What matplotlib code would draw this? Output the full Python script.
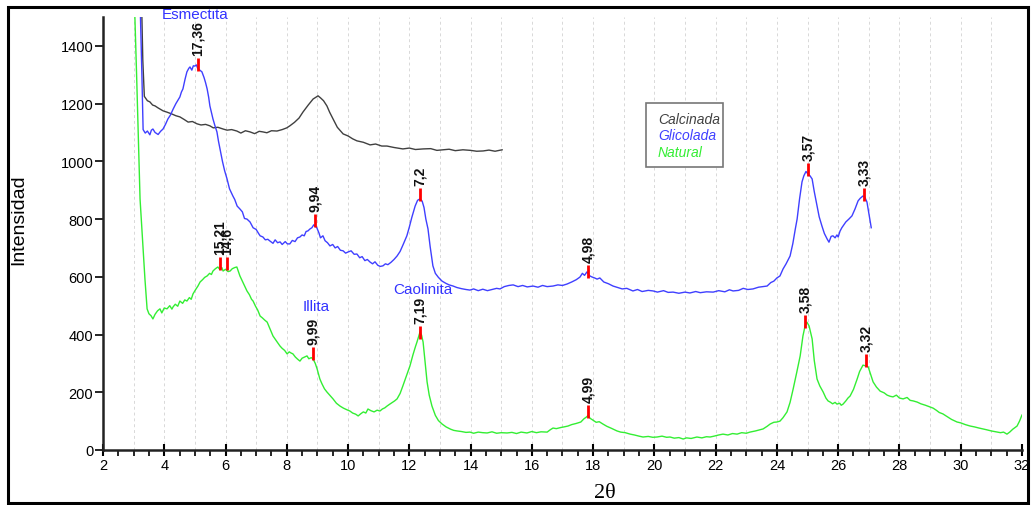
import numpy as np
import matplotlib
matplotlib.use("Agg")
import matplotlib.pyplot as plt
from matplotlib.patches import Rectangle
from matplotlib.ticker import MultipleLocator

plt.rcParams['font.family'] = ['Liberation Sans', 'DejaVu Sans']

# (2theta, intensity)
calcinada = [(3.25, 1600), (3.3, 1350), (3.35, 1225), (3.45, 1210), (3.53, 1206), (3.62, 1195),
             (3.70, 1192), (3.80, 1185), (3.96, 1175), (4.10, 1170), (4.25, 1164), (4.38, 1158),
             (4.51, 1154), (4.65, 1145), (4.78, 1136), (4.92, 1138), (5.07, 1130), (5.2, 1126),
             (5.35, 1128), (5.49, 1123), (5.6, 1116), (5.75, 1118), (5.92, 1112), (6.05, 1108),
             (6.2, 1110), (6.37, 1105), (6.5, 1098), (6.65, 1106), (6.80, 1102), (6.95, 1096),
             (7.1, 1104), (7.22, 1102), (7.35, 1099), (7.5, 1106), (7.68, 1105), (7.85, 1110),
             (8.0, 1116), (8.10, 1123), (8.25, 1135), (8.4, 1150), (8.53, 1171), (8.7, 1195),
             (8.86, 1216), (8.95, 1222), (9.02, 1227), (9.1, 1220), (9.2, 1210), (9.31, 1192),
             (9.4, 1170), (9.51, 1147), (9.65, 1118), (9.84, 1095), (10.0, 1088), (10.15, 1078),
             (10.29, 1071), (10.5, 1066), (10.72, 1057), (10.9, 1060), (11.1, 1053), (11.27, 1053),
             (11.5, 1048), (11.79, 1043), (12.0, 1046), (12.2, 1041), (12.45, 1043), (12.7, 1044),
             (12.9, 1038), (13.1, 1040), (13.3, 1042), (13.5, 1037), (13.75, 1040), (14.0, 1038),
             (14.2, 1035), (14.41, 1036), (14.6, 1039), (14.8, 1035), (15.03, 1040)]

glicolada = [(3.2, 1600), (3.27, 1300), (3.31, 1110), (3.38, 1098), (3.45, 1105), (3.53, 1092),
             (3.58, 1108), (3.63, 1112), (3.7, 1100), (3.8, 1093), (3.88, 1104), (3.96, 1112),
             (4.04, 1128), (4.12, 1147), (4.2, 1160), (4.29, 1181), (4.38, 1200), (4.45, 1212),
             (4.51, 1223), (4.56, 1240), (4.61, 1251), (4.68, 1285), (4.74, 1310), (4.8, 1322),
             (4.84, 1327), (4.9, 1316), (4.95, 1331), (5.0, 1330), (5.05, 1334), (5.1, 1320),
             (5.16, 1316), (5.23, 1310), (5.3, 1290), (5.35, 1272), (5.4, 1251), (5.45, 1222),
             (5.49, 1192), (5.55, 1165), (5.59, 1147), (5.65, 1125), (5.72, 1102), (5.77, 1070),
             (5.82, 1043), (5.9, 1000), (5.97, 968), (6.05, 939), (6.13, 905), (6.24, 880),
             (6.3, 868), (6.38, 845), (6.47, 835), (6.55, 825), (6.62, 802), (6.7, 800),
             (6.8, 790), (6.9, 770), (7.0, 764), (7.08, 750), (7.13, 742), (7.22, 738),
             (7.3, 728), (7.38, 730), (7.45, 724), (7.55, 716), (7.62, 728), (7.7, 718),
             (7.78, 721), (7.85, 712), (7.95, 722), (8.02, 714), (8.1, 714), (8.18, 726),
             (8.27, 722), (8.35, 735), (8.43, 738), (8.5, 745), (8.57, 742), (8.63, 757),
             (8.69, 759), (8.76, 766), (8.82, 770), (8.88, 780), (8.92, 776), (8.98, 770),
             (9.05, 752), (9.1, 735), (9.18, 742), (9.25, 725), (9.33, 718), (9.41, 707),
             (9.5, 712), (9.58, 700), (9.66, 705), (9.75, 692), (9.84, 690), (9.92, 682),
             (10.0, 686), (10.1, 690), (10.2, 678), (10.29, 679), (10.38, 666), (10.46, 670),
             (10.55, 656), (10.63, 660), (10.72, 651), (10.8, 645), (10.88, 652), (10.97, 640),
             (11.05, 636), (11.14, 638), (11.22, 645), (11.3, 642), (11.4, 650), (11.5, 660),
             (11.6, 672), (11.7, 688), (11.8, 712), (11.92, 742), (12.0, 772), (12.08, 805),
             (12.19, 845), (12.27, 865), (12.35, 870), (12.42, 862), (12.48, 840), (12.54, 800),
             (12.61, 766), (12.68, 705), (12.77, 638), (12.85, 612), (12.95, 598), (13.07, 585),
             (13.2, 577), (13.3, 572), (13.43, 568), (13.55, 563), (13.7, 559), (13.85, 556),
             (13.98, 554), (14.1, 558), (14.25, 552), (14.4, 557), (14.55, 552), (14.7, 556),
             (14.85, 560), (14.96, 558), (15.1, 566), (15.25, 570), (15.39, 572), (15.55, 566),
             (15.7, 570), (15.85, 565), (16.04, 568), (16.2, 564), (16.35, 570), (16.5, 566),
             (16.69, 568), (16.85, 572), (17.0, 570), (17.15, 575), (17.3, 582), (17.45, 590),
             (17.57, 599), (17.65, 612), (17.72, 605), (17.8, 617), (17.88, 604), (17.95, 600),
             (18.05, 596), (18.13, 592), (18.22, 596), (18.35, 582), (18.5, 576), (18.65, 568),
             (18.8, 563), (18.95, 558), (19.1, 560), (19.3, 551), (19.45, 556), (19.6, 549),
             (19.8, 553), (19.96, 551), (20.1, 547), (20.3, 552), (20.45, 546), (20.61, 547),
             (20.8, 543), (21.0, 547), (21.16, 544), (21.35, 549), (21.5, 545), (21.7, 548),
             (21.92, 547), (22.1, 552), (22.3, 548), (22.45, 555), (22.57, 551), (22.75, 553),
             (22.9, 560), (23.05, 556), (23.22, 558), (23.4, 564), (23.55, 566), (23.68, 568),
             (23.8, 580), (23.9, 585), (24.0, 596), (24.1, 603), (24.2, 627), (24.3, 645),
             (24.43, 672), (24.52, 715), (24.6, 765), (24.66, 800), (24.74, 870), (24.82, 929),
             (24.88, 950), (24.95, 965), (25.0, 958), (25.08, 950), (25.15, 939), (25.22, 895),
             (25.31, 845), (25.38, 808), (25.47, 776), (25.55, 750), (25.64, 731), (25.7, 720),
             (25.77, 740), (25.83, 742), (25.9, 735), (25.96, 745), (26.0, 738), (26.06, 758),
             (26.12, 770), (26.16, 776), (26.25, 790), (26.35, 800), (26.45, 811), (26.55, 835),
             (26.65, 863), (26.72, 872), (26.81, 880), (26.87, 876), (26.94, 859), (27.0, 820),
             (27.08, 770)]

natural = [(3.0, 1650), (3.1, 1290), (3.21, 870), (3.27, 766), (3.33, 660), (3.37, 592),
           (3.41, 530), (3.44, 489), (3.5, 472), (3.57, 465), (3.63, 454), (3.7, 470),
           (3.78, 482), (3.86, 489), (3.92, 475), (4.0, 492), (4.09, 489), (4.18, 500),
           (4.25, 488), (4.29, 496), (4.36, 505), (4.44, 498), (4.51, 516), (4.6, 508),
           (4.67, 520), (4.74, 516), (4.82, 528), (4.88, 522), (4.94, 541), (5.02, 555),
           (5.1, 568), (5.17, 582), (5.25, 590), (5.32, 598), (5.4, 603), (5.48, 612),
           (5.54, 608), (5.59, 620), (5.67, 628), (5.75, 634), (5.82, 625), (5.88, 632),
           (5.92, 620), (6.0, 626), (6.08, 618), (6.15, 620), (6.22, 628), (6.3, 632),
           (6.37, 634), (6.42, 618), (6.47, 603), (6.55, 585), (6.62, 570), (6.7, 551),
           (6.78, 538), (6.85, 522), (6.9, 516), (6.98, 498), (7.05, 485), (7.13, 464),
           (7.2, 458), (7.28, 450), (7.36, 443), (7.45, 420), (7.55, 395), (7.62, 384),
           (7.7, 372), (7.78, 360), (7.85, 352), (7.93, 345), (8.01, 333), (8.08, 340),
           (8.14, 336), (8.2, 333), (8.28, 322), (8.35, 315), (8.43, 308), (8.5, 318),
           (8.58, 322), (8.66, 326), (8.72, 316), (8.8, 320), (8.86, 315), (8.93, 300),
           (8.99, 281), (9.08, 246), (9.15, 229), (9.23, 212), (9.31, 201), (9.4, 190),
           (9.51, 177), (9.62, 162), (9.74, 152), (9.85, 145), (9.95, 140), (10.06, 135),
           (10.15, 128), (10.25, 124), (10.33, 118), (10.42, 126), (10.5, 132), (10.58, 128),
           (10.65, 142), (10.75, 136), (10.85, 132), (10.95, 138), (11.04, 135), (11.12, 142),
           (11.2, 146), (11.27, 152), (11.35, 158), (11.45, 165), (11.52, 170), (11.6, 177),
           (11.7, 196), (11.79, 222), (11.9, 255), (12.02, 291), (12.12, 330), (12.2, 358),
           (12.25, 374), (12.3, 392), (12.35, 409), (12.4, 398), (12.45, 374), (12.5, 320),
           (12.54, 275), (12.58, 236), (12.65, 190), (12.74, 152), (12.85, 120), (12.95, 102),
           (13.07, 90), (13.2, 80), (13.35, 72), (13.45, 68), (13.56, 66), (13.7, 64),
           (13.85, 61), (13.98, 62), (14.1, 58), (14.25, 62), (14.4, 60), (14.54, 59),
           (14.7, 63), (14.85, 58), (15.0, 60), (15.19, 59), (15.35, 61), (15.5, 57),
           (15.65, 62), (15.84, 59), (16.0, 64), (16.15, 60), (16.3, 63), (16.5, 62),
           (16.6, 70), (16.69, 76), (16.8, 74), (16.95, 78), (17.05, 80), (17.18, 83),
           (17.3, 88), (17.45, 92), (17.6, 97), (17.7, 108), (17.78, 114), (17.84, 120),
           (17.9, 110), (18.0, 103), (18.1, 96), (18.2, 98), (18.32, 90), (18.45, 82),
           (18.6, 75), (18.78, 66), (18.9, 62), (19.05, 60), (19.21, 55), (19.35, 52),
           (19.5, 48), (19.63, 45), (19.8, 47), (19.95, 44), (20.09, 45), (20.25, 48),
           (20.4, 44), (20.51, 45), (20.65, 41), (20.8, 43), (20.94, 38), (21.05, 42),
           (21.2, 40), (21.39, 45), (21.55, 42), (21.7, 46), (21.82, 45), (21.95, 48),
           (22.1, 52), (22.24, 55), (22.4, 52), (22.55, 57), (22.7, 55), (22.85, 60),
           (23.0, 58), (23.12, 62), (23.3, 66), (23.45, 70), (23.55, 73), (23.68, 82),
           (23.78, 90), (23.9, 96), (24.0, 97), (24.1, 100), (24.2, 112), (24.33, 132),
           (24.43, 165), (24.53, 211), (24.65, 270), (24.76, 326), (24.85, 395), (24.92, 430),
           (24.98, 443), (25.05, 430), (25.15, 385), (25.22, 310), (25.31, 246), (25.4, 222),
           (25.51, 201), (25.6, 180), (25.67, 170), (25.74, 166), (25.82, 160), (25.9, 165),
           (25.96, 159), (26.05, 162), (26.1, 155), (26.16, 159), (26.25, 170), (26.32, 180),
           (26.39, 187), (26.5, 210), (26.62, 246), (26.7, 272), (26.81, 294), (26.88, 292),
           (26.98, 288), (27.05, 265), (27.14, 236), (27.25, 218), (27.37, 204), (27.5, 198),
           (27.6, 190), (27.7, 186), (27.79, 184), (27.9, 190), (28.0, 180), (28.12, 177),
           (28.25, 182), (28.35, 172), (28.45, 170), (28.58, 166), (28.7, 160), (28.85, 155),
           (29.0, 149), (29.1, 145), (29.2, 138), (29.3, 130), (29.42, 125), (29.55, 116),
           (29.7, 106), (29.88, 97), (30.0, 94), (30.15, 88), (30.31, 83), (30.45, 80),
           (30.6, 76), (30.73, 73), (30.85, 70), (31.0, 66), (31.1, 64), (31.19, 62),
           (31.3, 60), (31.4, 62), (31.51, 55), (31.6, 62), (31.7, 72), (31.84, 83),
           (31.92, 100), (32.0, 121)]

# peak markers: 2theta, intensity at marker base, d-spacing label
peaks_x = [5.10, 8.92, 12.35, 17.83, 25.02, 26.85,
           5.82, 6.05, 8.86, 12.35, 17.83, 24.92, 26.91]
peaks_y = [1313, 773, 863, 596, 949, 863,
           624, 624, 312, 385, 111, 423, 288]
peaks_lbl = ['17,36', '9,94', '7,2', '4,98', '3,57', '3,33',
             '15,21', '14,6', '9,99', '7,19', '4,99', '3,58', '3,32']

minerals = [('Esmectita', 5.0, 1510), ('Illita', 8.95, 499), ('Caolinita', 12.45, 558)]

series = [('Calcinada', calcinada, '#404040'),
          ('Glicolada', glicolada, '#3f3fff'),
          ('Natural', natural, '#33ee33')]

fig = plt.figure(figsize=(10.35, 5.06), dpi=100)
ax = fig.add_axes([0.0995, 0.1087, 0.8879, 0.8557])

for x in range(3, 33):
    ax.axvline(x, color='#d8d8d8', lw=0.7, ls=(0, (3, 3)), zorder=0)

for name, pts, col in series:
    arr = np.array(pts)
    ax.plot(arr[:, 0], arr[:, 1], color=col, lw=1.0)

mark_h = 45
for x, y, lbl in zip(peaks_x, peaks_y, peaks_lbl):
    ax.plot([x, x], [y, y + mark_h], color='red', lw=2, solid_capstyle='butt', zorder=5)
    ax.text(x, y + mark_h + 10, lbl, rotation=90, ha='center', va='bottom',
            fontsize=10, fontweight='bold', color='#111111')

for name, x, y in minerals:
    ax.text(x, y, name, ha='center', va='center', fontsize=11, color='#3333ff',
            clip_on=False)

ax.set_xlim(2, 32)
ax.set_ylim(0, 1500)
ax.xaxis.set_major_locator(MultipleLocator(2))
ax.xaxis.set_minor_locator(MultipleLocator(0.5))
ax.set_yticks(np.arange(0, 1401, 200))
ax.tick_params(axis='x', which='major', direction='inout', length=8, width=1.5,
               labelsize=10.5, pad=2)
ax.tick_params(axis='x', which='minor', direction='out', length=4, width=1.2)
ax.tick_params(axis='y', which='major', direction='out', length=6, width=1.2,
               labelsize=10.5, pad=1)
for s in ['top', 'right']:
    ax.spines[s].set_visible(False)
for s in ['left', 'bottom']:
    ax.spines[s].set_linewidth(1.8)
    ax.spines[s].set_color('#222222')

fig.text(19 / 1035, 1 - 220 / 506, 'Intensidad', rotation=90, ha='center', va='center',
         fontsize=14)

fig.text(605 / 1035, 1 - 494 / 506, '2\u03b8', ha='center', va='center',
         fontsize=16, family=['Liberation Serif', 'DejaVu Serif'])

# legend: plain box with coloured italic names (no line samples)
W, H = 1035, 506
fig.patches.append(Rectangle((646 / W, 1 - 168 / H), 77 / W, 64 / H,
                             transform=fig.transFigure, facecolor='white',
                             edgecolor='#777777', lw=1.2, zorder=3))
for i, (name, _, col) in enumerate(series):
    fig.text(658 / W, 1 - (120 + 16.5 * i) / H, name, ha='left', va='center',
             fontsize=10, style='italic', color=col, zorder=4)

# white margin past the right frame edge, then the frame itself
fig.patches.append(Rectangle((1029 / W, 0), 6 / W, 1, transform=fig.transFigure,
                             facecolor='white', edgecolor='none', zorder=8))
fig.patches.append(Rectangle((8 / W, 2 / H), 1020 / W, 496 / H,
                             transform=fig.transFigure, fill=False,
                             edgecolor='black', lw=2.2, zorder=9))

fig.savefig('out.png', dpi=100)
